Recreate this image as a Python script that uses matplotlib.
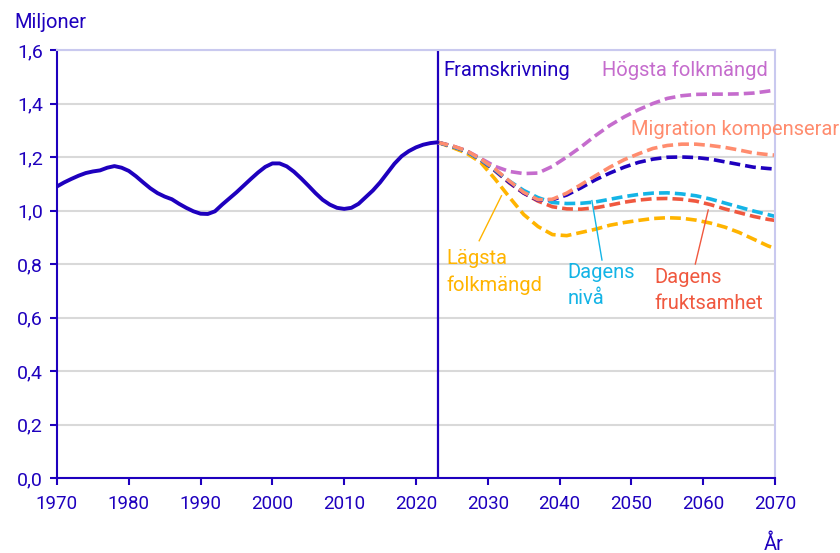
import matplotlib.pyplot as plt
from matplotlib.ticker import FuncFormatter

plt.rcParams['font.family'] = ['Roboto', 'DejaVu Sans']

# historical population (millions), one value per year 1970-2023
hist_years = list(range(1970, 2024))
hist_values = [1.090, 1.105, 1.118, 1.130, 1.140, 1.146, 1.150, 1.160, 1.166,
               1.160, 1.148, 1.128, 1.105, 1.083, 1.065, 1.052, 1.042, 1.025,
               1.010, 0.997, 0.988, 0.987, 0.997, 1.022, 1.045, 1.068, 1.093,
               1.118, 1.142, 1.163, 1.176, 1.176, 1.165, 1.145, 1.120, 1.093,
               1.065, 1.040, 1.022, 1.010, 1.006, 1.010, 1.025, 1.050, 1.075,
               1.105, 1.140, 1.175, 1.203, 1.222, 1.236, 1.246, 1.252, 1.255]

# projections
proj_years = list(range(2023, 2070, 2)) + [2070]
main_values = [1.255, 1.240, 1.222, 1.190, 1.150, 1.105, 1.065, 1.038, 1.040,
               1.058, 1.085, 1.115, 1.140, 1.162, 1.180, 1.192, 1.199, 1.200,
               1.198, 1.192, 1.182, 1.172, 1.162, 1.157, 1.155]
migration_values = [1.255, 1.242, 1.224, 1.193, 1.155, 1.110, 1.068, 1.040,
                    1.042, 1.065, 1.097, 1.130, 1.162, 1.190, 1.212, 1.232,
                    1.243, 1.248, 1.248, 1.243, 1.236, 1.226, 1.215, 1.209,
                    1.207]
high_values = [1.255, 1.242, 1.224, 1.195, 1.165, 1.146, 1.138, 1.140, 1.165,
               1.200, 1.238, 1.280, 1.318, 1.350, 1.377, 1.400, 1.419, 1.429,
               1.434, 1.435, 1.435, 1.436, 1.439, 1.446, 1.450]
level_values = [1.255, 1.240, 1.222, 1.190, 1.152, 1.110, 1.075, 1.048, 1.030,
                1.026, 1.027, 1.032, 1.042, 1.052, 1.060, 1.065, 1.066, 1.062,
                1.055, 1.043, 1.028, 1.013, 0.998, 0.985, 0.978]
fertility_values = [1.255, 1.240, 1.222, 1.188, 1.148, 1.103, 1.065, 1.035,
                    1.014, 1.006, 1.005, 1.010, 1.020, 1.031, 1.039, 1.044,
                    1.045, 1.042, 1.035, 1.022, 1.006, 0.992, 0.978, 0.967,
                    0.963]
low_values = [1.255, 1.236, 1.215, 1.180, 1.118, 1.050, 0.985, 0.940, 0.910,
              0.906, 0.918, 0.930, 0.945, 0.955, 0.963, 0.970, 0.973, 0.971,
              0.964, 0.953, 0.938, 0.918, 0.893, 0.868, 0.858]

DARK = '#1e00be'
PURPLE = '#c56ccd'
SALMON = '#ff8c6e'
CYAN = '#14b4e6'
RED = '#f0583f'
ORANGE = '#ffb400'

fig = plt.figure(figsize=(8.4, 5.53), dpi=100)
ax = fig.add_axes([57 / 840, 1 - 478 / 553, 718 / 840, 428 / 553])

ax.set_xlim(1970, 2070)
ax.set_ylim(0, 1.6)
ax.set_xticks(range(1970, 2071, 10))
ax.set_yticks([0, 0.2, 0.4, 0.6, 0.8, 1.0, 1.2, 1.4, 1.6])
ax.yaxis.set_major_formatter(FuncFormatter(lambda v, p: f'{v:.1f}'.replace('.', ',')))
ax.grid(axis='y', color='#d9d9d9', lw=1.5)
ax.set_axisbelow(True)
ax.tick_params(colors=DARK, length=5, width=1.5, direction='out')
ax.tick_params(axis='y', labelsize=14, pad=5)
ax.tick_params(axis='x', labelsize=13.5, pad=7)
for s in ['left', 'bottom']:
    ax.spines[s].set_color(DARK)
    ax.spines[s].set_linewidth(1.5)
for s in ['top', 'right']:
    ax.spines[s].set_color('#c9c9ef')
    ax.spines[s].set_linewidth(1.5)

ax.axvline(2023, color=DARK, lw=1.6)

dash = (3.0, 1.4)
lw = 2.6
ax.plot(proj_years, high_values, color=PURPLE, lw=lw, dashes=dash)
ax.plot(proj_years, low_values, color=ORANGE, lw=lw, dashes=dash)
ax.plot(proj_years, fertility_values, color=RED, lw=lw, dashes=dash)
ax.plot(proj_years, main_values, color=DARK, lw=lw, dashes=dash)
ax.plot(proj_years, level_values, color=CYAN, lw=lw, dashes=dash)
ax.plot(proj_years, migration_values, color=SALMON, lw=lw, dashes=dash)
ax.plot(hist_years, hist_values, color=DARK, lw=2.8, solid_capstyle='round',
        solid_joinstyle='round')

fs = 14.5
labels = [
    (2023.8, 1.504, 'Framskrivning', DARK),
    (2045.9, 1.504, 'Högsta folkmängd', PURPLE),
    (2049.9, 1.282, 'Migration kompenserar', SALMON),
    (2024.2, 0.799, 'Lägsta', ORANGE),
    (2024.2, 0.700, 'folkmängd', ORANGE),
    (2041.1, 0.749, 'Dagens', CYAN),
    (2041.1, 0.650, 'nivå', CYAN),
    (2053.2, 0.730, 'Dagens', RED),
    (2053.2, 0.631, 'fruktsamhet', RED),
]
for x, y, s, c in labels:
    ax.text(x, y, s, color=c, fontsize=fs, va='baseline', clip_on=False)

# leader lines from labels to curves
ax.plot([2031.9, 2028.8], [1.055, 0.887], color=ORANGE, lw=1)
ax.plot([2044.5, 2045.9], [1.037, 0.815], color=CYAN, lw=1)
ax.plot([2060.7, 2058.9], [1.002, 0.800], color=RED, lw=1)

fig.text(14 / 840, 1 - 28.5 / 553, 'Miljoner', color=DARK, fontsize=14.5,
         va='baseline')
fig.text(774 / 840, 1 - 550 / 553, 'År', color=DARK, fontsize=14.5,
         va='baseline', ha='center')

fig.savefig('out.png', dpi=100)
